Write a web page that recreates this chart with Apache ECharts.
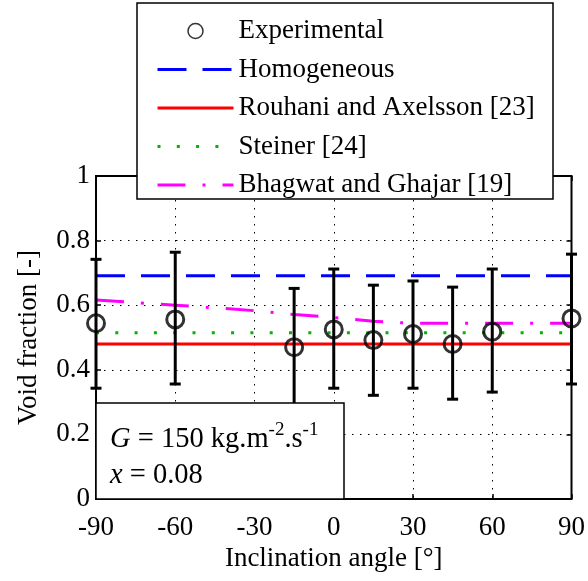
<!DOCTYPE html>
<html>
<head>
<meta charset="utf-8">
<script src="https://cdn.jsdelivr.net/npm/echarts@6/dist/echarts.min.js"></script>
<style>html,body{margin:0;padding:0;background:#fff}#c{width:588px;height:581px}</style>
</head>
<body>
<div id="c"></div>
<script>
// ---- data ----
const angles = [-90, -60, -15, 0, 15, 30, 45, 60, 90];
const expVoid = [0.544, 0.556, 0.470, 0.525, 0.492, 0.511, 0.480, 0.518, 0.559];
const errLow  = [0.343, 0.356, 0.288, 0.343, 0.321, 0.343, 0.309, 0.331, 0.356];
const errHigh = [0.742, 0.764, 0.652, 0.712, 0.662, 0.675, 0.656, 0.712, 0.758];
const lineAngles = [-90, 90];
const homogeneous = [0.691, 0.691];
const rouhani = [0.480, 0.480];
const steiner = [0.515, 0.515];
const bhagAngles = [-90, -75, -60, -45, -30, -15, 0, 15, 30, 45, 60, 75, 90];
const bhagwat = [0.616, 0.608, 0.600, 0.592, 0.583, 0.571, 0.562, 0.550, 0.544, 0.544, 0.544, 0.544, 0.544];
const xTicks = [-90, -60, -30, 0, 30, 60, 90];
const yTicks = [0, 0.2, 0.4, 0.6, 0.8, 1];
const names = ['Experimental', 'Homogeneous', 'Rouhani and Axelsson [23]', 'Steiner [24]', 'Bhagwat and Ghajar [19]'];

const FONT = 'Liberation Serif';
const chart = echarts.init(document.getElementById('c'));
const pair = (xs, ys) => xs.map((x, i) => [x, ys[i]]);

const axisCommon = {
  type: 'value',
  axisLine: { show: false, onZero: false },
  axisTick: { show: true, inside: true, length: 5, lineStyle: { color: '#000', width: 1.5 } }
};

const hideSym = { opacity: 0 };

const option = {
  animation: false,
  backgroundColor: '#fff',
  grid: { left: 96, right: 15, top: 176, bottom: 82, show: true, borderColor: '#000', borderWidth: 2, backgroundColor: 'transparent' },
  xAxis: [
    Object.assign({}, axisCommon, {
      min: xTicks[0], max: xTicks[xTicks.length - 1], interval: 30,
      axisLabel: { color: '#000', fontFamily: FONT, fontSize: 27, margin: 15 },
      splitLine: { show: true, lineStyle: { color: '#000', width: 1, type: [1.5, 6.5] } },
      name: 'Inclination angle [°]', nameLocation: 'middle', nameGap: 46,
      nameTextStyle: { color: '#000', fontFamily: FONT, fontSize: 27 }
    }),
    Object.assign({}, axisCommon, {
      position: 'top', min: xTicks[0], max: xTicks[xTicks.length - 1], interval: 30,
      axisLabel: { show: false }, splitLine: { show: false }
    })
  ],
  yAxis: [
    Object.assign({}, axisCommon, {
      min: yTicks[0], max: yTicks[yTicks.length - 1], interval: 0.2,
      axisLabel: { color: '#000', fontFamily: FONT, fontSize: 27, margin: 6, padding: [6, 0, 0, 0] },
      splitLine: { show: true, lineStyle: { color: '#000', width: 1, type: [1.5, 6.5] } },
      name: 'Void fraction [-]', nameLocation: 'middle', nameGap: 54,
      nameTextStyle: { color: '#000', fontFamily: FONT, fontSize: 27 }
    }),
    Object.assign({}, axisCommon, {
      position: 'right', min: yTicks[0], max: yTicks[yTicks.length - 1], interval: 0.2,
      axisLabel: { show: false }, splitLine: { show: false }
    })
  ],
  legend: {
    orient: 'vertical', left: 151, top: 11, z: 20,
    itemWidth: 76, itemHeight: 15, itemGap: 8.5,
    selectedMode: false,
    lineStyle: { width: 3 },
    textStyle: { color: '#000', fontFamily: FONT, fontSize: 27, lineHeight: 30 },
    data: [
      { name: names[0], itemStyle: { borderWidth: 1.5 } },
      { name: names[1], itemStyle: hideSym },
      { name: names[2], itemStyle: hideSym },
      { name: names[3], itemStyle: hideSym },
      { name: names[4], itemStyle: hideSym }
    ]
  },
  graphic: [
    { type: 'rect', z: 15, shape: { x: 137, y: 3, width: 416, height: 196 },
      style: { fill: '#fff', stroke: '#000', lineWidth: 1.5 } },
    { type: 'rect', z: 15, shape: { x: 96, y: 403, width: 248, height: 96 },
      style: { fill: '#fff', stroke: '#000', lineWidth: 1.5 } },
    { type: 'text', z: 16, x: 110, y: 421,
      style: { text: '{i|G} = 150 kg.m{s|-2}.s{s|-1}', fontFamily: FONT, fontSize: 28.5, fill: '#000', lineHeight: 38,
        verticalAlign: 'top',
        rich: { i: { fontStyle: 'italic', fontFamily: FONT, fontSize: 28.5, lineHeight: 38 },
                s: { fontFamily: FONT, fontSize: 19, verticalAlign: 'top' } } } },
    { type: 'text', z: 16, x: 110, y: 457,
      style: { text: '{i|x} = 0.08', fontFamily: FONT, fontSize: 28.5, fill: '#000', lineHeight: 38,
        verticalAlign: 'top',
        rich: { i: { fontStyle: 'italic', fontFamily: FONT, fontSize: 28.5, lineHeight: 38 } } } }
  ],
  series: [
    {
      type: 'custom', name: 'errorbars', z: 3,
      data: angles.map((a, i) => [a, errLow[i], errHigh[i]]),
      encode: { x: 0, y: [1, 2] },
      renderItem: function (params, api) {
        const x = api.value(0);
        const lo = api.coord([x, api.value(1)]);
        const hi = api.coord([x, api.value(2)]);
        const hw = 5.5;
        const st = { stroke: '#000', lineWidth: 3 };
        return { type: 'group', children: [
          { type: 'line', shape: { x1: lo[0], y1: lo[1], x2: hi[0], y2: hi[1] }, style: st },
          { type: 'line', shape: { x1: hi[0] - hw, y1: hi[1], x2: hi[0] + hw, y2: hi[1] }, style: st },
          { type: 'line', shape: { x1: lo[0] - hw, y1: lo[1], x2: lo[0] + hw, y2: lo[1] }, style: st }
        ] };
      }
    },
    {
      type: 'scatter', name: names[0], z: 4,
      data: pair(angles, expVoid),
      symbol: 'circle', symbolSize: 17,
      itemStyle: { color: 'rgba(0,0,0,0)', borderColor: '#000', borderWidth: 3 }
    },
    {
      type: 'line', name: names[1], z: 2, symbol: 'none',
      data: pair(lineAngles, homogeneous),
      lineStyle: { color: '#0000ff', width: 3, type: [29, 16] },
      itemStyle: { color: '#0000ff' }
    },
    {
      type: 'line', name: names[2], z: 2, symbol: 'none',
      data: pair(lineAngles, rouhani),
      lineStyle: { color: '#ff0000', width: 3, type: 'solid' },
      itemStyle: { color: '#ff0000' }
    },
    {
      type: 'line', name: names[3], z: 2, symbol: 'none',
      data: pair(lineAngles, steiner),
      lineStyle: { color: '#00b400', width: 3, type: [3, 16.3] },
      itemStyle: { color: '#00b400' }
    },
    {
      type: 'line', name: names[4], z: 2, symbol: 'none',
      data: pair(bhagAngles, bhagwat),
      lineStyle: { color: '#ff00ff', width: 3, type: [28, 17, 3, 17] },
      itemStyle: { color: '#ff00ff' }
    }
  ]
};
chart.setOption(option);
</script>
</body>
</html>
